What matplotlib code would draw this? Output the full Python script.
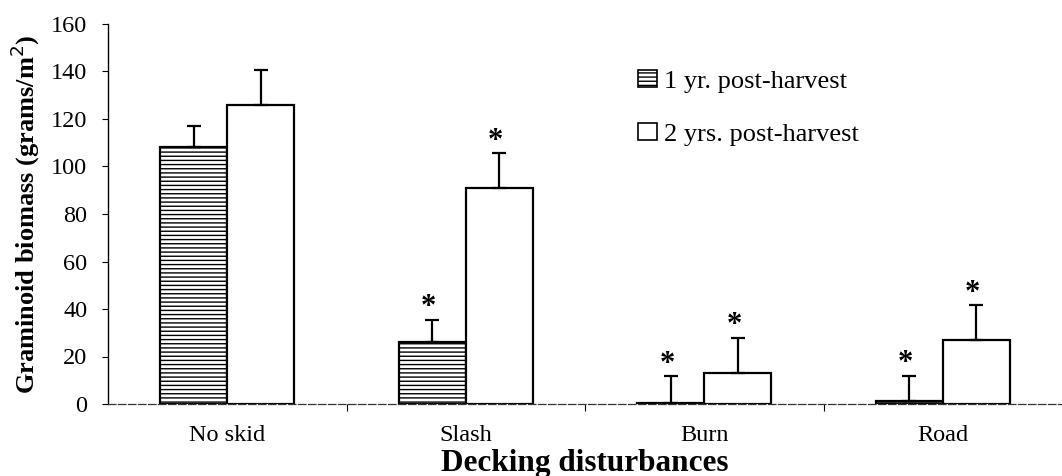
import matplotlib
matplotlib.use("Agg")
import matplotlib.pyplot as plt
import numpy as np
from matplotlib.patches import Patch

# Graminoid biomass by decking disturbance
categories = ["No skid", "Slash", "Burn", "Road"]
yr1 = [108, 26, 0.6, 1.2]
yr1_err = [9, 9.5, 11, 10.5]
yr2 = [126, 91, 13, 27]
yr2_err = [14.5, 14.5, 15, 14.5]
yr1_star = [False, True, True, True]
yr2_star = [False, True, True, True]
labels = ["1 yr. post-harvest", "2 yrs. post-harvest"]

plt.rcParams['font.family'] = ['Liberation Serif', 'DejaVu Serif']

fig = plt.figure(figsize=(10.62, 4.76), dpi=100)
ax = fig.add_axes([108/1062, 72/476, 954/1062, 380/476])

x = np.arange(len(categories)) + 0.5
w = 0.28

ax.bar(x - w/2, yr1, w, color="white", edgecolor="black", hatch="----", linewidth=1.6, zorder=2)
ax.bar(x + w/2, yr2, w, color="white", edgecolor="black", linewidth=1.6, zorder=2)

ax.errorbar(x - w/2, yr1, yerr=[np.zeros(4), yr1_err], fmt="none", ecolor="black",
            elinewidth=1.6, capsize=5, capthick=1.6, zorder=3)
ax.errorbar(x + w/2, yr2, yerr=[np.zeros(4), yr2_err], fmt="none", ecolor="black",
            elinewidth=1.6, capsize=5, capthick=1.6, zorder=3)

# asterisks above the error caps
for i in range(len(categories)):
    if yr1_star[i]:
        ax.text(x[i] - w/2 - 0.015, yr1[i] + yr1_err[i] + 2, "*", ha="center", va="baseline",
                fontsize=22, fontweight="bold")
    if yr2_star[i]:
        ax.text(x[i] + w/2 - 0.015, yr2[i] + yr2_err[i] + 2, "*", ha="center", va="baseline",
                fontsize=22, fontweight="bold")

ax.set_xlim(0, 4)
ax.set_ylim(0, 160)
ax.set_yticks(range(0, 161, 20))
ax.set_xticks(x)
ax.set_xticklabels(categories, fontsize=17.5)
ax.set_xticks([1, 2, 3], minor=True)
ax.tick_params(axis="x", which="major", length=0, pad=15)
ax.tick_params(axis="x", which="minor", length=5, direction="out", width=0.8)
ax.tick_params(axis="y", labelsize=17.5, length=4, width=0.8, pad=11)

ax.spines["top"].set_visible(False)
ax.spines["right"].set_visible(False)
ax.spines["left"].set_linewidth(1.0)
ax.spines["bottom"].set_linestyle((0, (6, 2)))
ax.spines["bottom"].set_linewidth(0.9)
ax.spines["bottom"].set_color("#333333")

ax.set_ylabel("Graminoid biomass (grams/m$^2$)", fontsize=19, fontweight="bold", labelpad=6)
ax.set_xlabel("Decking disturbances", fontsize=22.5, fontweight="bold", labelpad=2)

handles = [Patch(facecolor="white", edgecolor="black", hatch="----", linewidth=1.2),
           Patch(facecolor="white", edgecolor="black", linewidth=1.2)]
fig.legend(handles, labels, loc="upper left", bbox_to_anchor=(638/1062, 1 - 70/476),
           frameon=False, fontsize=19, handlelength=0.72, handleheight=0.6,
           handletextpad=0.25, labelspacing=1.15, borderpad=0, borderaxespad=0)

fig.savefig("out.png", dpi=100)
